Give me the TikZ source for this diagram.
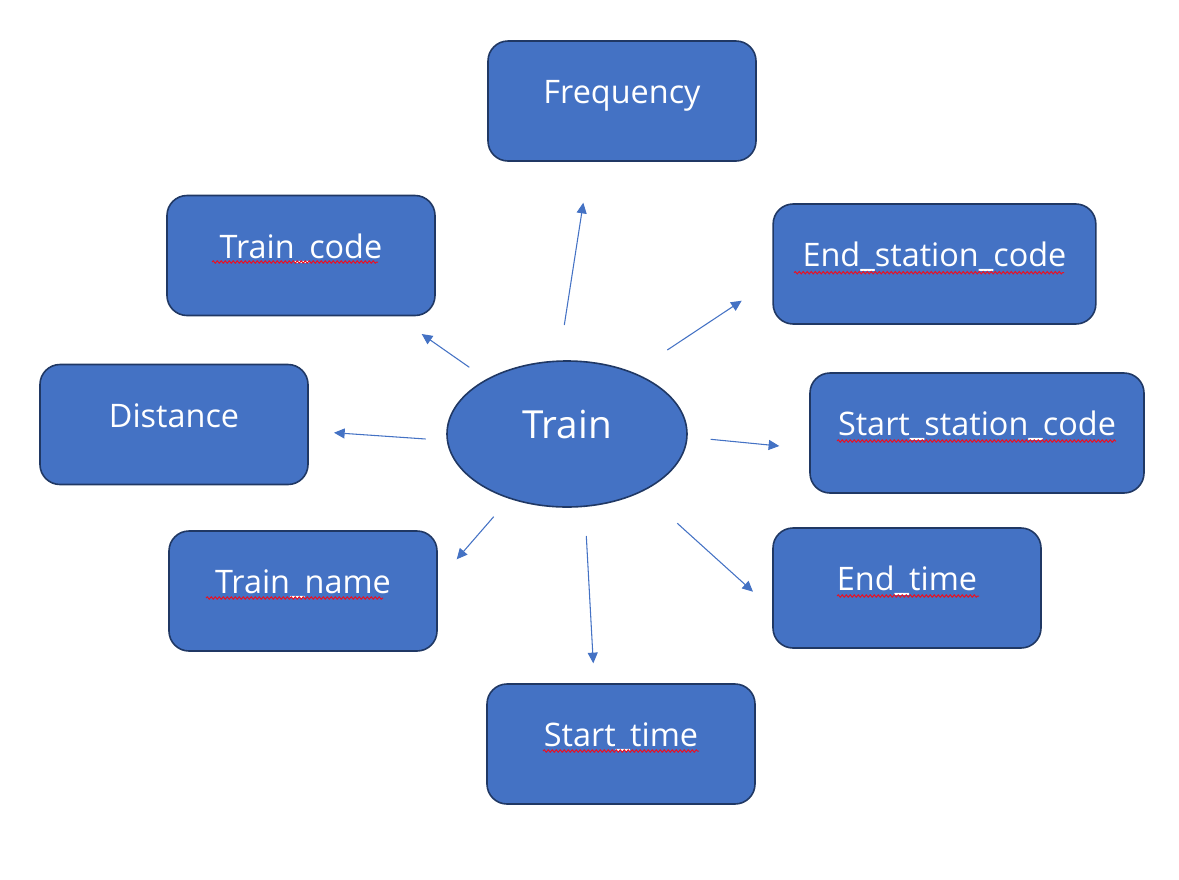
\documentclass[tikz,border=0pt]{standalone}
\usepackage{fontspec}
\setmainfont{Open Sans}
\usetikzlibrary{shapes.geometric, arrows.meta, positioning, decorations.pathmorphing}
\definecolor{BoxBlue}{HTML}{4472C4}
\definecolor{BoxEdge}{HTML}{203864}
\definecolor{SpellRed}{HTML}{E81123}

\begin{document}
\begin{tikzpicture}[x=0.75pt, y=-0.75pt,
    attrbox/.style={draw=BoxEdge, fill=BoxBlue, line width=1.2pt, rounded corners=15pt,
                    minimum width=201pt, minimum height=90pt, text=white,
                    font=\fontsize{24.3}{29}\selectfont, text height=13pt, text depth=9pt},
    entity/.style={ellipse, draw=BoxEdge, fill=BoxBlue, line width=1.2pt,
                   minimum width=180pt, minimum height=109.5pt, text=white,
                   font=\fontsize{29}{34}\selectfont, text height=21pt, text depth=15pt},
    link/.style={draw=BoxBlue, line width=0.8pt, -{Triangle[length=8pt, width=7.5pt]}},
    squiggle/.style={draw=SpellRed, line width=0.75pt, decorate,
                     decoration={snake, amplitude=0.9pt, segment length=3pt}}]
    \useasboundingbox (0,0) rectangle (1179,879);

    % entity and its attributes
    \node[entity] (train) at (567,434) {Train};
    \node[attrbox] (freq) at (622,101) {Frequency};
    \node[attrbox] (tcode) at (301,255.5) {Train\_code};
    \node[attrbox, minimum width=242pt] (endst) at (934.5,264) {End\_station\_code};
    \node[attrbox] (dist) at (174,424.5) {Distance};
    \node[attrbox, minimum width=250.5pt] (startst) at (977,433) {Start\_station\_code};
    \node[attrbox] (tname) at (303,591) {Train\_name};
    \node[attrbox] (etime) at (907,588) {End\_time};
    \node[attrbox] (stime) at (621,744) {Start\_time};

    % spelling marks under the underscored names
    \foreach \n/\l/\r/\d in {tcode/-89/77/6.5, endst/-140.5/129.5/8.7, startst/-140/139/8,
                             tname/-97/80/7, etime/-70/72/8, stime/-78/78/7}
        \draw[squiggle] ([shift={(\l,\d)}]\n.center) -- ([shift={(\r,\d)}]\n.center);

    % arrows from the entity outwards
    \foreach \n/\ax/\ay/\bx/\by in {freq/564.3/325/583.3/202.7, endst/667.3/350/741.7/300.7,
                                    tcode/469.3/367.3/421.7/334, dist/425.7/439/334/432.7,
                                    startst/710.7/439.3/779.3/446, tname/493.7/516.7/456.7/559.3,
                                    etime/677.3/523.3/753/591.7, stime/586.3/536/593.3/663.3} {
        \coordinate (\n-tail) at (\ax,\ay);
        \coordinate (\n-tip) at (\bx,\by);
        \draw[link] (\n-tail) -- (\n-tip);
    }
\end{tikzpicture}
\end{document}
